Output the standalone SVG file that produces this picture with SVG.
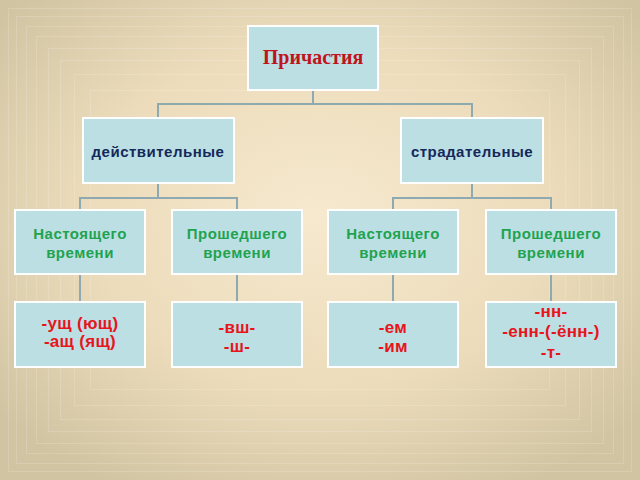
<svg xmlns="http://www.w3.org/2000/svg" width="640" height="480" viewBox="0 0 640 480">
<defs>
<radialGradient id="bg" cx="50%" cy="45%" r="65%">
<stop offset="0" stop-color="#f7e9cf"/>
<stop offset="0.55" stop-color="#ecdcbb"/>
<stop offset="1" stop-color="#d1c4a2"/>
</radialGradient>
<style>
.box{fill:#bbdfe3;stroke:#ffffff;stroke-width:2}
.ln{fill:none;stroke:#8fa9b1;stroke-width:2}
.frame{fill:none;stroke:#ffffff;stroke-opacity:0.16;stroke-width:1}
.t1{font-family:"Liberation Serif","Times New Roman",serif;font-weight:bold;font-size:20px;fill:#c0141c;text-anchor:middle}
.t2{font-family:"Liberation Sans",Arial,sans-serif;font-weight:bold;font-size:15px;letter-spacing:0.5px;fill:#14285a;text-anchor:middle}
.t3{font-family:"Liberation Sans",Arial,sans-serif;font-weight:bold;font-size:15px;letter-spacing:0.5px;fill:#1fa34f;text-anchor:middle}
.t4{font-family:"Liberation Sans",Arial,sans-serif;font-weight:bold;font-size:17px;letter-spacing:0.3px;fill:#e8141c;text-anchor:middle}
</style>
</defs>
<rect x="0" y="0" width="640" height="480" fill="url(#bg)"/>
<g id="frames">
<rect class="frame" x="8.5" y="8.5" width="623" height="463"/>
<rect class="frame" x="16.5" y="16.5" width="607" height="447"/>
<rect class="frame" x="26.5" y="26.5" width="587" height="427"/>
<rect class="frame" x="36.5" y="36.5" width="567" height="407"/>
<rect class="frame" x="48.5" y="48.5" width="543" height="383"/>
<rect class="frame" x="60.5" y="60.5" width="519" height="359"/>
<rect class="frame" x="74.5" y="74.5" width="491" height="331"/>
<rect class="frame" x="90.5" y="90.5" width="459" height="299"/>
</g>
<g id="connectors">
<path class="ln" d="M313 90V104M158 118V104H472V118"/>
<path class="ln" d="M158 183V198M80 210V198H237V210"/>
<path class="ln" d="M472 183V198M393 210V198H551V210"/>
<path class="ln" d="M80 274V302M237 274V302M393 274V302M551 274V302"/>
</g>
<g id="root">
<rect class="box" x="248" y="26" width="130" height="64"/>
<text class="t1" x="313" y="64">Причастия</text>
</g>
<g id="active">
<rect class="box" x="83" y="118" width="151" height="65"/>
<text class="t2" x="158" y="157">действительные</text>
</g>
<g id="passive">
<rect class="box" x="401" y="118" width="142" height="65"/>
<text class="t2" x="472" y="157">страдательные</text>
</g>
<g id="a-present">
<rect class="box" x="15" y="210" width="130" height="64"/>
<text class="t3" x="80" y="239">Настоящего</text>
<text class="t3" x="80" y="258">времени</text>
</g>
<g id="a-past">
<rect class="box" x="172" y="210" width="130" height="64"/>
<text class="t3" x="237" y="239">Прошедшего</text>
<text class="t3" x="237" y="258">времени</text>
</g>
<g id="p-present">
<rect class="box" x="328" y="210" width="130" height="64"/>
<text class="t3" x="393" y="239">Настоящего</text>
<text class="t3" x="393" y="258">времени</text>
</g>
<g id="p-past">
<rect class="box" x="486" y="210" width="130" height="64"/>
<text class="t3" x="551" y="239">Прошедшего</text>
<text class="t3" x="551" y="258">времени</text>
</g>
<g id="s1">
<rect class="box" x="15" y="302" width="130" height="65"/>
<text class="t4" x="80" y="329">-ущ (ющ)</text>
<text class="t4" x="80" y="347">-ащ (ящ)</text>
</g>
<g id="s2">
<rect class="box" x="172" y="302" width="130" height="65"/>
<text class="t4" x="237" y="333">-вш-</text>
<text class="t4" x="237" y="352">-ш-</text>
</g>
<g id="s3">
<rect class="box" x="328" y="302" width="130" height="65"/>
<text class="t4" x="393" y="333">-ем</text>
<text class="t4" x="393" y="352">-им</text>
</g>
<g id="s4">
<rect class="box" x="486" y="302" width="130" height="65"/>
<text class="t4" x="551" y="317">-нн-</text>
<text class="t4" x="551" y="337">-енн-(-ённ-)</text>
<text class="t4" x="551" y="358">-т-</text>
</g>
</svg>
